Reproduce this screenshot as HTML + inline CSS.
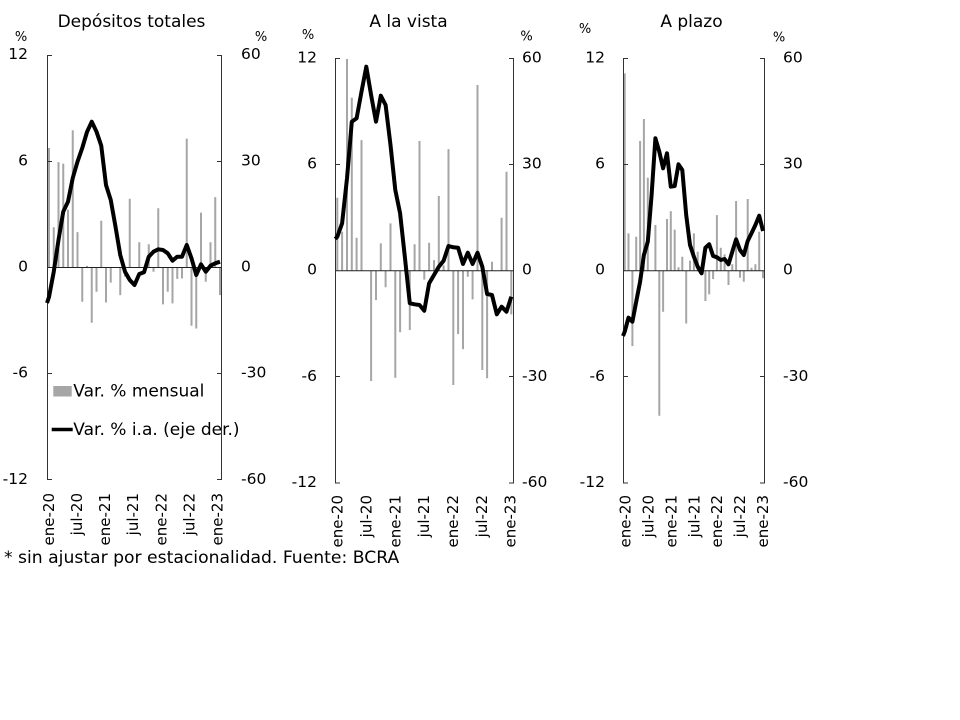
<!DOCTYPE html>
<html><head><meta charset="utf-8"><style>
html,body{margin:0;padding:0;background:#fff;}
svg{display:block;}
text{font-family:"DejaVu Sans","Liberation Sans",sans-serif;fill:#000;}
.tl{font-size:15.5px;}
.xl{font-size:15px;}
.pc{font-size:13px;}
.ti{font-size:17px;}
.ax{stroke:#333;stroke-width:1;fill:none;}
.bar{stroke:#a6a6a6;stroke-width:2;fill:none;}
.ln{stroke:#000;stroke-width:4;fill:none;stroke-linejoin:round;stroke-linecap:butt;}
</style></head><body>
<svg width="960" height="720" viewBox="0 0 960 720" xmlns="http://www.w3.org/2000/svg">
<rect width="960" height="720" fill="#fff"/>

<!-- ===== Panel 1 ===== -->
<text class="ti" x="131.5" y="27" text-anchor="middle">Depósitos totales</text>
<text class="pc" x="21" y="41" text-anchor="middle">%</text>
<text class="pc" x="261" y="41" text-anchor="middle">%</text>
<g class="tl">
<text x="28" y="59" text-anchor="end">12</text>
<text x="28" y="165.5" text-anchor="end">6</text>
<text x="28" y="271.5" text-anchor="end">0</text>
<text x="28" y="377.5" text-anchor="end">-6</text>
<text x="28" y="484" text-anchor="end">-12</text>
<text x="241" y="59">60</text>
<text x="241" y="165.5">30</text>
<text x="241" y="271.5">0</text>
<text x="241" y="377.5">-30</text>
<text x="241" y="484">-60</text>
</g>
<g class="bar">
<path d="M49 267.5V148M53.75 267.5V227.2M58.5 267.5V162.1M63.25 267.5V163.6M68 267.5V209.7M72.75 267.5V130.2M77.5 267.5V232.1M82.25 267.5V301.8M87 267.5V265.9M91.75 267.5V322.7M96.5 267.5V291.8M101.25 267.5V220.8M106 267.5V302.5M110.75 267.5V282.6M120.25 267.5V295.1M125 267.5V276.6M129.75 267.5V198.8M139.25 267.5V242.3M144 267.5V270.8M148.75 267.5V244.2M153.5 267.5V271.7M158.25 267.5V208.2M163 267.5V304.4M167.75 267.5V291.8M172.5 267.5V303.4M177.25 267.5V278.9M182 267.5V278.4M186.75 267.5V138.6M191.5 267.5V325.7M196.25 267.5V328.5M201 267.5V212.6M205.75 267.5V281.7M210.5 267.5V242.3M215.25 267.5V197.1M220 267.5V295.1"/>
</g>
<path class="ax" d="M47.5 55V480M221.5 55V480M47.5 55.5H52M47.5 161.5H52M47.5 373.5H52M47.5 479.5H52M221.5 55.5H217M221.5 161.5H217M221.5 373.5H217M221.5 479.5H217"/>
<path d="M47.5 267.5H221.5" stroke="#222" stroke-width="1"/>
<polyline class="ln" points="47,303 49,297 53.75,271.7 58.5,240 63.25,211.7 68,201.7 72.75,178 77.5,161.7 82.25,148 87,132 91.75,121.7 96.5,131.7 101.25,145.7 106,185 110.75,200 115.5,226.7 120.25,255 125,271.7 129.75,280 134.5,285 139.25,274 144,272.3 148.75,256.7 153.5,251.7 158.25,249.3 163,250 167.75,253.3 172.5,260.7 177.25,256.7 182,256.7 186.75,245 191.5,258.3 196.25,275 201,264.3 205.75,271.7 210.5,265.7 215.25,263.3 220,261.7"/>
<!-- legend -->
<rect x="53.3" y="386" width="18.4" height="10.5" fill="#a6a6a6"/>
<text x="73.3" y="396.7" style="font-size:17px">Var. % mensual</text>
<path d="M51.7 429.5H72.7" stroke="#000" stroke-width="3.5"/>
<text x="73.3" y="435" style="font-size:17px">Var. % i.a. (eje der.)</text>
<path class="ax" d="M221.5 420V445"/>
<g class="xl">
<text transform="translate(54.1,493) rotate(-90)" text-anchor="end">ene-20</text>
<text transform="translate(82.1,493) rotate(-90)" text-anchor="end">jul-20</text>
<text transform="translate(110.2,493) rotate(-90)" text-anchor="end">ene-21</text>
<text transform="translate(138.2,493) rotate(-90)" text-anchor="end">jul-21</text>
<text transform="translate(166.3,493) rotate(-90)" text-anchor="end">ene-22</text>
<text transform="translate(194.3,493) rotate(-90)" text-anchor="end">jul-22</text>
<text transform="translate(222.4,493) rotate(-90)" text-anchor="end">ene-23</text>
</g>

<!-- ===== Panel 2 ===== -->
<text class="ti" x="408.5" y="27" text-anchor="middle">A la vista</text>
<text class="pc" x="308" y="39" text-anchor="middle">%</text>
<text class="pc" x="526.5" y="40.5" text-anchor="middle">%</text>
<g class="tl">
<text x="317" y="62.5" text-anchor="end">12</text>
<text x="317" y="168.5" text-anchor="end">6</text>
<text x="317" y="274.7" text-anchor="end">0</text>
<text x="317" y="381" text-anchor="end">-6</text>
<text x="317" y="487" text-anchor="end">-12</text>
<text x="522" y="62.5">60</text>
<text x="522" y="168.5">30</text>
<text x="522" y="274.7">0</text>
<text x="522" y="381">-30</text>
<text x="522" y="487">-60</text>
</g>
<g class="bar">
<path d="M337.3 270.7V197.8M342.1 270.7V231.8M347 270.7V59M351.8 270.7V97.8M356.6 270.7V237.8M361.5 270.7V140.1M371.1 270.7V381M376 270.7V300.1M380.8 270.7V243.4M385.6 270.7V287.3M390.5 270.7V223.4M395.3 270.7V377.8M400.1 270.7V332.3M405 270.7V265.4M409.8 270.7V330M414.6 270.7V244.3M419.5 270.7V141M424.3 270.7V279.6M429.1 270.7V242.7M434 270.7V260.1M438.8 270.7V196M443.6 270.7V265.4M448.5 270.7V149.1M453.3 270.7V385M458.1 270.7V334.1M463 270.7V349.1M467.8 270.7V276.7M472.6 270.7V299.4M477.5 270.7V85M482.3 270.7V370M487.1 270.7V378.3M492 270.7V261.7M501.6 270.7V217.8M506.5 270.7V171.8M511.3 270.7V314.4"/>
</g>
<path class="ax" d="M335.5 58V483.5M513.5 58V483.5M335.5 58.5H340M335.5 164.5H340M335.5 376.5H340M335.5 483H340M513.5 58.5H509M513.5 164.5H509M513.5 376.5H509M513.5 483H509"/>
<path d="M335.5 270.7H513.5" stroke="#222" stroke-width="1"/>
<polyline class="ln" points="335.3,239 337.3,236.7 342.1,223.3 347,178.3 351.8,121.7 356.6,118.3 361.5,91.7 366.3,66.7 371.1,95 376,121.7 380.8,95.7 385.6,105 390.5,145 395.3,190 400.1,213.3 405,258.3 409.8,303.3 414.6,304.3 419.5,305 424.3,310.7 429.1,283.3 434,275 438.8,266.7 443.6,260.7 448.5,246 453.3,247.3 458.1,247.7 463,264 467.8,252.7 472.6,264 477.5,252.7 482.3,266.7 487.1,294 492,295 496.8,314.3 501.6,306.7 506.5,311.7 511.3,296.7"/>
<g class="xl">
<text transform="translate(342.6,495) rotate(-90)" text-anchor="end">ene-20</text>
<text transform="translate(371.4,495) rotate(-90)" text-anchor="end">jul-20</text>
<text transform="translate(400.3,495) rotate(-90)" text-anchor="end">ene-21</text>
<text transform="translate(429.1,495) rotate(-90)" text-anchor="end">jul-21</text>
<text transform="translate(458,495) rotate(-90)" text-anchor="end">ene-22</text>
<text transform="translate(486.8,495) rotate(-90)" text-anchor="end">jul-22</text>
<text transform="translate(515.7,495) rotate(-90)" text-anchor="end">ene-23</text>
</g>

<!-- ===== Panel 3 ===== -->
<text class="ti" x="691.5" y="27" text-anchor="middle">A plazo</text>
<text class="pc" x="585" y="33" text-anchor="middle">%</text>
<text class="pc" x="779" y="41.5" text-anchor="middle">%</text>
<g class="tl">
<text x="605" y="62.5" text-anchor="end">12</text>
<text x="605" y="168.5" text-anchor="end">6</text>
<text x="605" y="274.7" text-anchor="end">0</text>
<text x="605" y="381" text-anchor="end">-6</text>
<text x="605" y="487" text-anchor="end">-12</text>
<text x="783" y="62.5">60</text>
<text x="783" y="168.5">30</text>
<text x="783" y="274.7">0</text>
<text x="783" y="381">-30</text>
<text x="783" y="487">-60</text>
</g>
<g class="bar">
<path d="M624.7 270.7V73.4M628.5 270.7V233.4M632.4 270.7V346.1M636.2 270.7V236.7M640.1 270.7V141M643.9 270.7V119M647.8 270.7V177.8M655.4 270.7V225M659.3 270.7V415.8M663.1 270.7V311.8M667 270.7V219M670.8 270.7V211.1M674.7 270.7V229.6M678.5 270.7V267.2M682.3 270.7V256.7M686.2 270.7V323.5M690 270.7V260.8M693.9 270.7V233.4M697.7 270.7V251.8M705.4 270.7V301M709.2 270.7V294.4M713.1 270.7V279M716.9 270.7V215.1M720.8 270.7V247.7M724.6 270.7V254.4M728.5 270.7V285M732.3 270.7V264.3M736.1 270.7V201M740 270.7V277.8M743.8 270.7V281.7M747.7 270.7V199M751.5 270.7V267.7M755.4 270.7V264.3M759.2 270.7V231.7M763 270.7V278.3"/>
</g>
<path class="ax" d="M623.5 58V483.5M764.5 58V483.5M623.5 58.5H628M623.5 164.5H628M623.5 376.5H628M623.5 483H628M764.5 58.5H760M764.5 164.5H760M764.5 376.5H760M764.5 483H760"/>
<path d="M623.5 270.7H764.5" stroke="#222" stroke-width="1"/>
<polyline class="ln" points="623,336 624.7,331.7 628.5,317.7 632.4,321.7 636.2,301.7 640.1,281.7 643.9,255 647.8,241.7 651.6,195 655.4,138.3 659.3,151.7 663.1,168.3 667,153.3 670.8,186.7 674.7,186 678.5,164.3 682.3,170 686.2,215 690,245 693.9,256.7 697.7,266.7 701.6,273.3 705.4,247.7 709.2,244.3 713.1,256 716.9,257.3 720.8,260 724.6,259 728.5,264.3 732.3,251.7 736.1,239.3 740,250 743.8,255 747.7,241 751.5,233.3 755.4,225 759.2,215.7 763,231"/>
<g class="xl">
<text transform="translate(630.6,495) rotate(-90)" text-anchor="end">ene-20</text>
<text transform="translate(653.5,495) rotate(-90)" text-anchor="end">jul-20</text>
<text transform="translate(676.4,495) rotate(-90)" text-anchor="end">ene-21</text>
<text transform="translate(699.3,495) rotate(-90)" text-anchor="end">jul-21</text>
<text transform="translate(722.2,495) rotate(-90)" text-anchor="end">ene-22</text>
<text transform="translate(745.1,495) rotate(-90)" text-anchor="end">jul-22</text>
<text transform="translate(768,495) rotate(-90)" text-anchor="end">ene-23</text>
</g>

<!-- footer -->
<text x="4" y="563" style="font-size:17.2px">* sin ajustar por estacionalidad. Fuente: BCRA</text>
</svg>
</body></html>
